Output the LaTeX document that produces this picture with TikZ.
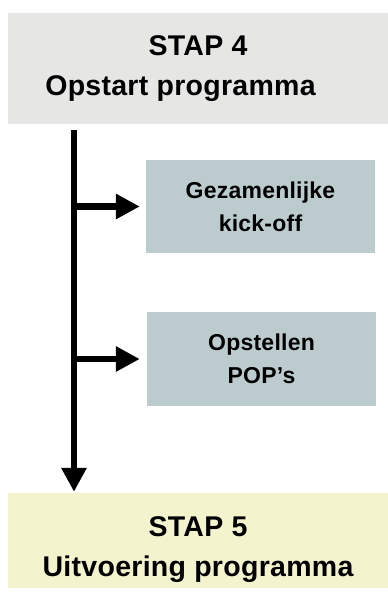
\documentclass[tikz,border=0pt]{standalone}
\usepackage{fontspec}
\setmainfont{Liberation Sans}
\newfontfamily\stapfont[LetterSpace=1]{Liberation Sans}
\usetikzlibrary{arrows.meta,positioning}

\definecolor{stapgray}{RGB}{230,231,229}
\definecolor{stapyellow}{RGB}{243,244,206}
\definecolor{stepblue}{RGB}{188,203,205}

\tikzset{
  stapbox/.style={fill=stapgray, minimum width=380pt, inner sep=0pt, align=center,
    font=\stapfont\bfseries\fontsize{28.5}{40}\selectfont},
  subbox/.style={fill=stepblue, minimum width=229pt, minimum height=93pt, inner sep=0pt,
    align=center, font=\stapfont\bfseries\fontsize{23}{33}\selectfont},
  flow/.style={line width=6.5pt, -{Triangle[width=24pt,length=24pt]}}
}

\begin{document}
\begin{tikzpicture}[x=1pt,y=-1pt]
        % Fix the page size
        \useasboundingbox (0,0) rectangle (388,598);

        % Draw the two stages
        \node[stapbox, minimum height=111pt] (stap4) at (198,68.5) {STAP 4\\Opstart programma\kern35pt};
        \node[stapbox, fill=stapyellow, minimum height=95pt] (stap5) at (198,540.5) {\rule{0pt}{39pt}STAP 5\\Uitvoering programma};

        % Draw the steps in between
        \node[subbox] (kickoff) at (260.5,206.5) {Gezamenlijke\\kick-off};
        \node[subbox, minimum height=94pt] (pops) at (261.5,359) {Opstellen\\POP’s};

        % Main line from stage to stage
        \coordinate (spine) at (74,0);
        \draw[flow, shorten <=6pt, shorten >=1pt] (stap4.south -| spine) -- (stap5.north -| spine);

        % Branches to the steps
        \draw[flow, shorten >=6pt] (spine |- kickoff.west) -- (kickoff.west);
        \draw[flow, shorten >=7pt] (spine |- pops.west) -- (pops.west);
    \end{tikzpicture}
\end{document}
